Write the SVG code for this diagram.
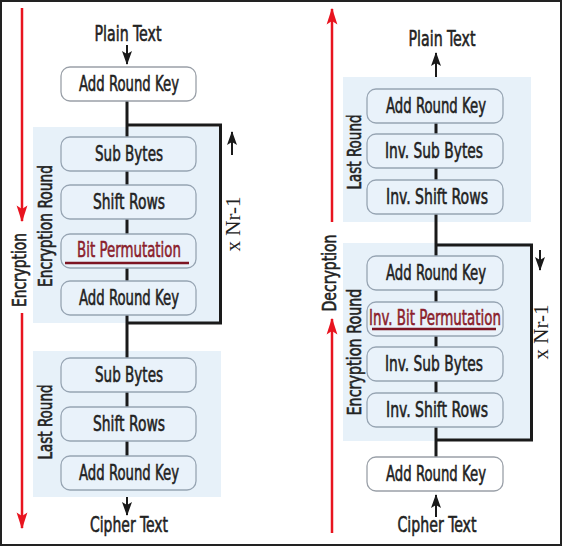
<svg xmlns="http://www.w3.org/2000/svg" width="563" height="547" viewBox="0 0 563 547">
<style>
.region{fill:#e7f1f9;stroke:none}
.box{fill:#e9f2fa;stroke:#97a5b3;stroke-width:1.3}
.wbox{fill:#ffffff;stroke:#9aa0a8;stroke-width:1.3}
.t{font-family:"Liberation Sans Narrow","DejaVu Sans Condensed","Liberation Sans",sans-serif;font-size:21px;fill:#222;stroke:#222;stroke-width:0.55;text-anchor:middle}
.v{font-size:19px}
.red{fill:#8b1e2c;stroke:#8b1e2c}
.ul{stroke:#7d1422;stroke-width:2.5}
.nr{font-family:"Liberation Serif","DejaVu Serif",serif;font-size:20px;fill:#222;text-anchor:middle}
.wire{stroke:#1a1a1a;stroke-width:3;fill:none}
.arr{stroke:#1a1a1a;stroke-width:2;fill:none}
.rarr{stroke:#e8141f;stroke-width:2.5;fill:none}
</style>
<defs>
<marker id="ah" viewBox="0 0 14 10" refX="13" refY="5" markerWidth="14" markerHeight="10" markerUnits="userSpaceOnUse" orient="auto">
<path d="M0,0 L14,5 L0,10 L3,5 Z" fill="#1a1a1a"/>
</marker>
<marker id="rah" viewBox="0 0 14 10" refX="13" refY="5" markerWidth="17" markerHeight="12" markerUnits="userSpaceOnUse" orient="auto">
<path d="M0,0.5 L14,5 L0,9.5 L3,5 Z" fill="#e8141f"/>
</marker>
</defs>
<rect x="1" y="1" width="560" height="544" fill="#ffffff" stroke="#222" stroke-width="2"/>

<g id="regions">
<rect class="region" x="33" y="127" width="188" height="196"/>
<rect class="region" x="33" y="351" width="188" height="146"/>
<rect class="region" x="343" y="77" width="188" height="145"/>
<rect class="region" x="343" y="243" width="188" height="198"/>
</g>

<g id="connectors">
<line class="wire" x1="127" y1="101" x2="127" y2="456"/>
<path class="wire" d="M127,125 H220.5 V323 H127"/>
<line class="wire" x1="436" y1="123" x2="436" y2="457"/>
<path class="wire" d="M436,245 H531.5 V440 H436"/>
<line class="arr" x1="127" y1="45" x2="127" y2="64" marker-end="url(#ah)"/>
<line class="arr" x1="127" y1="497" x2="127" y2="515" marker-end="url(#ah)"/>
<line class="arr" x1="232" y1="155" x2="232" y2="132" marker-end="url(#ah)"/>
<line class="arr" x1="436" y1="77" x2="436" y2="53" marker-end="url(#ah)"/>
<line class="arr" x1="436" y1="517" x2="436" y2="495" marker-end="url(#ah)"/>
<line class="arr" x1="540" y1="250" x2="540" y2="270" marker-end="url(#ah)"/>
<line class="rarr" x1="22" y1="8" x2="22" y2="221" marker-end="url(#rah)"/>
<line class="rarr" x1="22" y1="313" x2="22" y2="528" marker-end="url(#rah)"/>
<line class="rarr" x1="332" y1="222" x2="332" y2="9" marker-end="url(#rah)"/>
<line class="rarr" x1="332" y1="533" x2="332" y2="319" marker-end="url(#rah)"/>
</g>

<g id="labels">
<text class="t" x="128" y="41" textLength="67" lengthAdjust="spacingAndGlyphs">Plain Text</text>
<text class="t" x="129" y="532" textLength="78" lengthAdjust="spacingAndGlyphs">Cipher Text</text>
<text class="t" x="442" y="46" textLength="67" lengthAdjust="spacingAndGlyphs">Plain Text</text>
<text class="t" x="437" y="532" textLength="79" lengthAdjust="spacingAndGlyphs">Cipher Text</text>
<text class="t v" transform="translate(26,270) rotate(-90)" textLength="74" lengthAdjust="spacingAndGlyphs">Encryption</text>
<text class="t v" transform="translate(336,273) rotate(-90)" textLength="77" lengthAdjust="spacingAndGlyphs">Decryption</text>
<text class="t v" transform="translate(52,226) rotate(-90)" textLength="122" lengthAdjust="spacingAndGlyphs">Encryption Round</text>
<text class="t v" transform="translate(52,422) rotate(-90)" textLength="75" lengthAdjust="spacingAndGlyphs">Last Round</text>
<text class="t v" transform="translate(361,152) rotate(-90)" textLength="75" lengthAdjust="spacingAndGlyphs">Last Round</text>
<text class="t v" transform="translate(361,352) rotate(-90)" textLength="127" lengthAdjust="spacingAndGlyphs">Encryption Round</text>
<text class="nr" transform="translate(240,224) rotate(-90)" textLength="55" lengthAdjust="spacingAndGlyphs">x Nr-1</text>
<text class="nr" transform="translate(548,332) rotate(-90)" textLength="55" lengthAdjust="spacingAndGlyphs">x Nr-1</text>
</g>

<g id="enc-ark0"><rect class="wbox" x="61" y="67" width="135" height="34" rx="9"/><text class="t" x="129" y="91" textLength="100" lengthAdjust="spacingAndGlyphs">Add Round Key</text></g>
<g id="enc-sub1"><rect class="box" x="61" y="137" width="135" height="34" rx="9"/><text class="t" x="129" y="161" textLength="68" lengthAdjust="spacingAndGlyphs">Sub Bytes</text></g>
<g id="enc-shift1"><rect class="box" x="61" y="185" width="135" height="34" rx="9"/><text class="t" x="129" y="209" textLength="72" lengthAdjust="spacingAndGlyphs">Shift Rows</text></g>
<g id="enc-perm"><rect class="box" x="61" y="234" width="135" height="34" rx="9"/><text class="t red" x="129" y="257" textLength="104" lengthAdjust="spacingAndGlyphs">Bit Permutation</text><line class="ul" x1="65" y1="263" x2="189" y2="263"/></g>
<g id="enc-ark1"><rect class="box" x="61" y="281" width="135" height="34" rx="9"/><text class="t" x="129" y="305" textLength="100" lengthAdjust="spacingAndGlyphs">Add Round Key</text></g>
<g id="enc-sub2"><rect class="box" x="61" y="358" width="135" height="34" rx="9"/><text class="t" x="129" y="382" textLength="68" lengthAdjust="spacingAndGlyphs">Sub Bytes</text></g>
<g id="enc-shift2"><rect class="box" x="61" y="407" width="135" height="34" rx="9"/><text class="t" x="129" y="431" textLength="72" lengthAdjust="spacingAndGlyphs">Shift Rows</text></g>
<g id="enc-ark2"><rect class="box" x="61" y="456" width="135" height="34" rx="9"/><text class="t" x="129" y="480" textLength="100" lengthAdjust="spacingAndGlyphs">Add Round Key</text></g>

<g id="dec-ark2"><rect class="box" x="367" y="89" width="136" height="34" rx="9"/><text class="t" x="436" y="113" textLength="100" lengthAdjust="spacingAndGlyphs">Add Round Key</text></g>
<g id="dec-sub2"><rect class="box" x="367" y="134" width="136" height="34" rx="9"/><text class="t" x="434" y="158" textLength="98" lengthAdjust="spacingAndGlyphs">Inv. Sub Bytes</text></g>
<g id="dec-shift2"><rect class="box" x="367" y="180" width="136" height="34" rx="9"/><text class="t" x="437" y="204" textLength="102" lengthAdjust="spacingAndGlyphs">Inv. Shift Rows</text></g>
<g id="dec-ark1"><rect class="box" x="367" y="256" width="136" height="34" rx="9"/><text class="t" x="436" y="280" textLength="100" lengthAdjust="spacingAndGlyphs">Add Round Key</text></g>
<g id="dec-perm"><rect class="box" x="367" y="302" width="136" height="34" rx="9"/><text class="t red" x="435" y="325" textLength="132" lengthAdjust="spacingAndGlyphs">Inv. Bit Permutation</text><line class="ul" x1="372" y1="329" x2="496" y2="329"/></g>
<g id="dec-sub1"><rect class="box" x="367" y="347" width="136" height="34" rx="9"/><text class="t" x="434" y="371" textLength="98" lengthAdjust="spacingAndGlyphs">Inv. Sub Bytes</text></g>
<g id="dec-shift1"><rect class="box" x="367" y="393" width="136" height="34" rx="9"/><text class="t" x="437" y="417" textLength="102" lengthAdjust="spacingAndGlyphs">Inv. Shift Rows</text></g>
<g id="dec-ark0"><rect class="wbox" x="367" y="457" width="136" height="34" rx="9"/><text class="t" x="436" y="481" textLength="100" lengthAdjust="spacingAndGlyphs">Add Round Key</text></g>
</svg>
